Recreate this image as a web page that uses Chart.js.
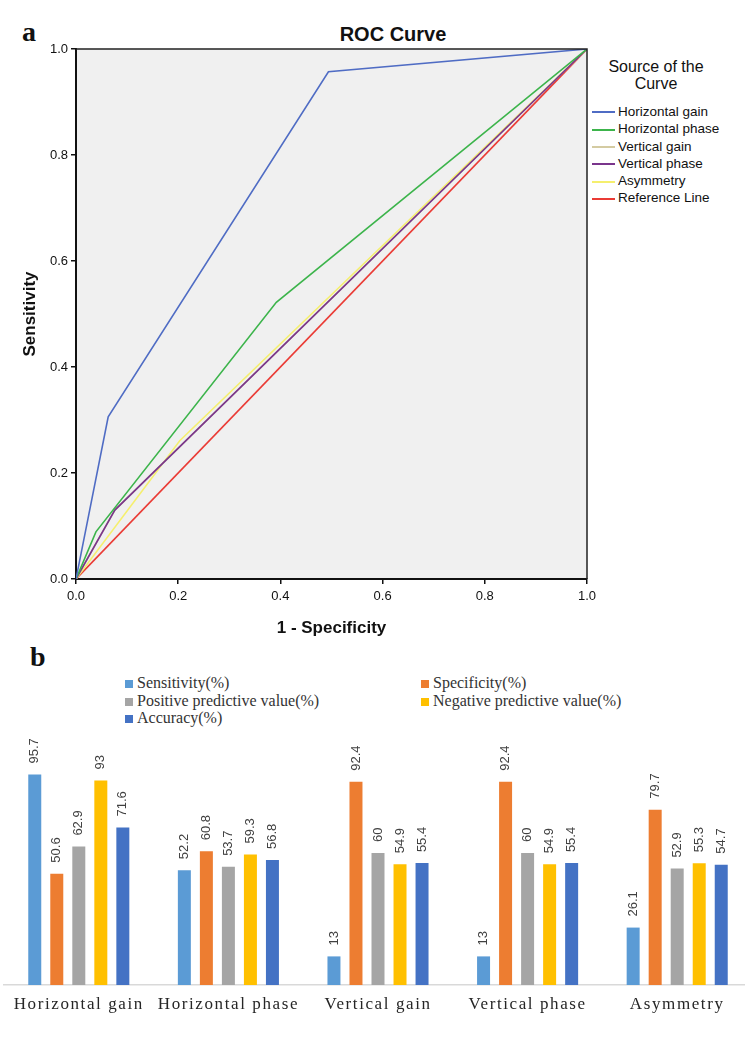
<!DOCTYPE html>
<html>
<head>
<meta charset="utf-8">
<script src="https://cdn.jsdelivr.net/npm/chart.js@4.4.1/dist/chart.umd.min.js"></script>
<style>
  html, body { margin: 0; padding: 0; background: #fff; overflow: hidden; }
  body { width: 745px; height: 1039px; position: relative; }
  .abs { position: absolute; }
  .panel { font-family: "Liberation Serif", "Times New Roman", serif; font-weight: bold; font-size: 28px; line-height: 28px; color: #111; }
  #rocTitle { left: 293px; top: 22px; width: 200px; text-align: center; font: bold 20px/24px "Liberation Sans", Arial, sans-serif; color: #111; }
  #rocLegend { left: 588px; top: 58px; width: 136px; font-family: "Liberation Sans", Arial, sans-serif; color: #111; }
  #rocLegend .ttl { text-align: center; font-size: 16px; line-height: 17px; margin-bottom: 11px; }
  #rocLegend .item { height: 17.3px; line-height: 17.3px; font-size: 13.5px; white-space: nowrap; padding-left: 4px; }
  #rocLegend .sw { display: inline-block; width: 23px; height: 2px; vertical-align: middle; margin-right: 3px; }
  #barLegend { left: 125px; top: 674px; display: grid; grid-template-columns: 296px auto; font-family: "Liberation Serif", "Times New Roman", serif; font-size: 16px; color: #333; }
  #barLegend .item { height: 17.5px; line-height: 17.5px; white-space: nowrap; }
  #barLegend .sw { display: inline-block; width: 8px; height: 8px; margin-right: 4px; vertical-align: 0px; }
</style>
</head>
<body>
<div class="abs panel" style="left:22px; top:18px;">a</div>
<div class="abs panel" style="left:30px; top:643px;">b</div>
<div class="abs" id="rocTitle">ROC Curve</div>
<div class="abs" id="rocLegend"></div>
<div class="abs" id="barLegend"></div>
<canvas id="roc" class="abs" width="745" height="650" style="left:0; top:0;"></canvas>
<canvas id="bars" class="abs" width="754" height="309" style="left:0; top:730px;"></canvas>
<script>
// ROC curve points (1 - specificity, sensitivity)
var hGainFpr = [0, 0.063, 0.494, 1];
var hGainTpr = [0, 0.306, 0.957, 1];
var hPhaseFpr = [0, 0.039, 0.392, 1];
var hPhaseTpr = [0, 0.089, 0.522, 1];
var vGainFpr = [0, 0.076, 1];
var vGainTpr = [0, 0.130, 1];
var vPhaseFpr = [0, 0.076, 1];
var vPhaseTpr = [0, 0.130, 1];
var asymFpr = [0, 0.203, 1];
var asymTpr = [0, 0.261, 1];
var refFpr = [0, 1];
var refTpr = [0, 1];

var rocNames = ['Horizontal gain', 'Horizontal phase', 'Vertical gain', 'Vertical phase', 'Asymmetry', 'Reference Line'];
var rocColors = ['#4f6cc4', '#3cb44b', '#d4cba2', '#7a358c', '#f5ef6e', '#ea3b35'];
var rocX = [hGainFpr, hPhaseFpr, vGainFpr, vPhaseFpr, asymFpr, refFpr];
var rocY = [hGainTpr, hPhaseTpr, vGainTpr, vPhaseTpr, asymTpr, refTpr];
var rocOrder = [1, 2, 4, 3, 5, 6];
var rocTicks = [0, 0.2, 0.4, 0.6, 0.8, 1.0];

// bar chart values (%)
var categories = ['Horizontal gain', 'Horizontal phase', 'Vertical gain', 'Vertical phase', 'Asymmetry'];
var sensitivity = [95.7, 52.2, 13, 13, 26.1];
var specificity = [50.6, 60.8, 92.4, 92.4, 79.7];
var ppv = [62.9, 53.7, 60, 60, 52.9];
var npv = [93, 59.3, 54.9, 54.9, 55.3];
var accuracy = [71.6, 56.8, 55.4, 55.4, 54.7];

var barNames = ['Sensitivity(%)', 'Specificity(%)', 'Positive predictive value(%)', 'Negative predictive value(%)', 'Accuracy(%)'];
var barColors = ['#5b9bd5', '#ed7d31', '#a5a5a5', '#ffc000', '#4472c4'];
var barValues = [sensitivity, specificity, ppv, npv, accuracy];

var sans = '"Liberation Sans", Arial, sans-serif';

// legends as html
var rocLegend = document.getElementById('rocLegend');
var html = '<div class="ttl">Source of the<br>Curve</div>';
rocNames.forEach(function (n, i) {
  html += '<div class="item"><span class="sw" style="background:' + rocColors[i] + '"></span>' + n + '</div>';
});
rocLegend.innerHTML = html;

var barLegend = document.getElementById('barLegend');
html = '';
barNames.forEach(function (n, i) {
  html += '<div class="item"><span class="sw" style="background:' + barColors[i] + '"></span>' + n + '</div>';
});
barLegend.innerHTML = html;

// grey plot background plus a frame round it
var plotFrame = {
  id: 'plotFrame',
  beforeDraw: function (chart) {
    var a = chart.chartArea, ctx = chart.ctx;
    ctx.save();
    ctx.fillStyle = '#f0f0f0';
    ctx.fillRect(a.left, a.top, a.right - a.left, a.bottom - a.top);
    ctx.restore();
  },
  afterDraw: function (chart) {
    var a = chart.chartArea, ctx = chart.ctx;
    ctx.save();
    ctx.strokeStyle = '#222';
    ctx.lineWidth = 1.5;
    ctx.beginPath();
    ctx.moveTo(a.left, a.top);
    ctx.lineTo(a.right, a.top);
    ctx.lineTo(a.right, a.bottom);
    ctx.stroke();
    ctx.restore();
  }
};

new Chart(document.getElementById('roc'), {
  type: 'scatter',
  data: {
    datasets: rocNames.map(function (n, i) {
      return {
        label: n,
        data: rocX[i].map(function (x, j) { return { x: x, y: rocY[i][j] }; }),
        showLine: true,
        borderColor: rocColors[i],
        backgroundColor: rocColors[i],
        borderWidth: 1.6,
        pointRadius: 0,
        tension: 0,
        order: rocOrder[i]
      };
    })
  },
  options: {
    responsive: false,
    animation: false,
    layout: { padding: { left: 16, right: 158, top: 49, bottom: 0 } },
    plugins: { legend: { display: false }, tooltip: { enabled: false }, title: { display: false } },
    scales: {
      x: {
        type: 'linear', min: 0, max: 1,
        afterBuildTicks: function (s) { s.ticks = rocTicks.map(function (v) { return { value: v }; }); },
        afterFit: function (s) { s.height = 71; },
        ticks: { callback: function (v) { return v.toFixed(1); }, color: '#111', font: { family: sans, size: 13 }, padding: 5, maxRotation: 0 },
        grid: { drawOnChartArea: false, drawTicks: true, tickLength: 5, color: '#111', lineWidth: 1.5 },
        border: { color: '#111', width: 2 },
        title: { display: true, text: '1 - Specificity', color: '#111', font: { family: sans, size: 17, weight: 'bold' }, padding: { top: 0, bottom: 11 } }
      },
      y: {
        type: 'linear', min: 0, max: 1,
        afterBuildTicks: function (s) { s.ticks = rocTicks.map(function (v) { return { value: v }; }); },
        afterFit: function (s) { s.width = 60; },
        ticks: { callback: function (v) { return v.toFixed(1); }, color: '#111', font: { family: sans, size: 13 }, padding: 3 },
        grid: { drawOnChartArea: false, drawTicks: true, tickLength: 5, color: '#111', lineWidth: 1.5 },
        border: { color: '#111', width: 2 },
        title: { display: true, text: 'Sensitivity', color: '#111', font: { family: sans, size: 17, weight: 'bold' }, padding: { top: 4, bottom: 0 } }
      }
    }
  },
  plugins: [plotFrame]
});

// rotated value labels above each bar
var valueLabels = {
  id: 'valueLabels',
  beforeDraw: function (chart) { chart.ctx.letterSpacing = '1.6px'; },
  afterDatasetsDraw: function (chart) {
    var ctx = chart.ctx;
    ctx.save();
    ctx.letterSpacing = '0px';
    ctx.font = '13px ' + sans;
    ctx.fillStyle = '#404040';
    ctx.textAlign = 'left';
    ctx.textBaseline = 'middle';
    chart.data.datasets.forEach(function (ds, i) {
      chart.getDatasetMeta(i).data.forEach(function (bar, j) {
        ctx.save();
        ctx.translate(bar.x, bar.y - 11);
        ctx.rotate(-Math.PI / 2);
        ctx.fillText(String(ds.data[j]), 0, 0);
        ctx.restore();
      });
    });
    ctx.restore();
  },
  afterDraw: function (chart) { chart.ctx.letterSpacing = '0px'; }
};

new Chart(document.getElementById('bars'), {
  type: 'bar',
  data: {
    labels: categories,
    datasets: barNames.map(function (n, i) {
      return {
        label: n,
        data: barValues[i],
        backgroundColor: barColors[i],
        borderWidth: 0,
        barPercentage: 0.59,
        categoryPercentage: 0.736
      };
    })
  },
  options: {
    responsive: false,
    animation: false,
    layout: { padding: { left: 4, right: 2, top: 2, bottom: 0 } },
    plugins: { legend: { display: false }, tooltip: { enabled: false } },
    scales: {
      x: {
        afterFit: function (s) { s.height = 54; },
        grid: { display: true, drawOnChartArea: false, drawTicks: false },
        border: { color: '#d9d9d9', width: 1.5 },
        ticks: { color: '#262626', font: { family: '"Liberation Serif", "Times New Roman", serif', size: 17 }, padding: 9, maxRotation: 0, autoSkip: false, z: 1 }
      },
      y: { display: false, min: 0, max: 115 }
    }
  },
  plugins: [valueLabels]
});
</script>
</body>
</html>
